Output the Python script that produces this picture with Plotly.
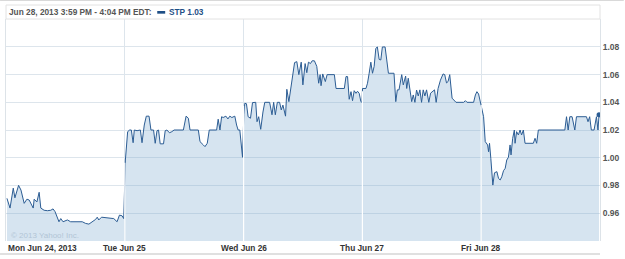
import plotly.graph_objects as go
import numpy as np

# ---- data: time in trading days since Mon open, price ----
mon_t = [0.008, 0.034, 0.061, 0.075, 0.106, 0.126, 0.153, 0.176, 0.195, 0.209, 0.229, 0.237,
         0.260, 0.279, 0.293, 0.321, 0.349, 0.377, 0.396, 0.413, 0.433, 0.446, 0.461, 0.480,
         0.517, 0.544, 0.642, 0.670, 0.698, 0.726, 0.754, 0.768, 0.781, 0.804, 0.852, 0.907,
         0.935, 0.955, 0.977, 0.991]
mon_p = [0.9706, 0.9636, 0.978, 0.971, 0.980, 0.9766, 0.967, 0.970, 0.9694, 0.9665, 0.9636, 0.970,
         0.968, 0.975, 0.9636, 0.962, 0.9617, 0.962, 0.963, 0.961, 0.957, 0.9537, 0.956, 0.9537,
         0.955, 0.9537, 0.9537, 0.9525, 0.952, 0.9537, 0.9554, 0.957, 0.955, 0.957, 0.9566, 0.956,
         0.9537, 0.9585, 0.958, 0.956]

tue_t = [1.005, 1.024, 1.041, 1.055, 1.070, 1.080, 1.103, 1.131, 1.145, 1.164, 1.181, 1.204,
         1.220, 1.242, 1.256, 1.271, 1.284, 1.298, 1.326, 1.340, 1.354, 1.376, 1.396, 1.415,
         1.493, 1.516, 1.535, 1.549, 1.619, 1.633, 1.661, 1.675, 1.694, 1.711, 1.773, 1.786,
         1.801, 1.815, 1.828, 1.851, 1.868, 1.884, 1.901, 1.926, 1.941, 1.954, 1.968, 1.991]
tue_p = [0.9983, 1.0188, 1.02, 1.02, 1.0108, 1.02, 1.0195, 1.02, 1.0108, 1.0236, 1.030, 1.030,
         1.02, 1.02, 1.0104, 1.0195, 1.02, 1.01, 1.01, 1.0195, 1.02, 1.018, 1.0188, 1.02,
         1.02, 1.030, 1.0285, 1.02, 1.02, 1.0116, 1.0092, 1.008, 1.0104, 1.02, 1.02, 1.0278,
         1.02, 1.0296, 1.029, 1.030, 1.028, 1.030, 1.029, 1.030, 1.0236, 1.02, 1.02, 1.0003]

wed_t = [2.002, 2.010, 2.024, 2.038, 2.058, 2.075, 2.102, 2.113, 2.127, 2.144, 2.163, 2.178,
         2.219, 2.239, 2.253, 2.267, 2.284, 2.303, 2.317, 2.331, 2.353, 2.364, 2.381, 2.395,
         2.415, 2.429, 2.448, 2.465, 2.485, 2.499, 2.518, 2.532, 2.546, 2.563, 2.577, 2.596,
         2.616, 2.632, 2.644, 2.652, 2.666, 2.688, 2.703, 2.764, 2.778, 2.848, 2.862, 2.875,
         2.889, 2.904, 2.917, 2.931, 2.946, 2.959, 2.973, 2.987, 2.996]
wed_p = [1.031, 1.0393, 1.039, 1.0296, 1.0285, 1.0398, 1.04, 1.026, 1.0296, 1.0205, 1.033, 1.04,
         1.04, 1.031, 1.04, 1.031, 1.04, 1.04, 1.0345, 1.038, 1.030, 1.0494, 1.0405, 1.05,
         1.061, 1.0687, 1.0694, 1.06, 1.069, 1.0526, 1.068, 1.0614, 1.069, 1.068, 1.070, 1.07,
         1.066, 1.0538, 1.06, 1.052, 1.0605, 1.055, 1.06, 1.06, 1.050, 1.05, 1.0586, 1.0586,
         1.0422, 1.0477, 1.0412, 1.0484, 1.0465, 1.048, 1.0465, 1.0405, 1.04]

thu_t = [3.001, 3.030, 3.043, 3.057, 3.071, 3.085, 3.099, 3.113, 3.126, 3.141, 3.155, 3.168,
         3.191, 3.205, 3.219, 3.266, 3.281, 3.294, 3.308, 3.331, 3.344, 3.364, 3.373, 3.386,
         3.400, 3.415, 3.428, 3.442, 3.456, 3.470, 3.484, 3.498, 3.512, 3.526, 3.540, 3.559,
         3.574, 3.587, 3.607, 3.621, 3.637, 3.657, 3.679, 3.693, 3.708, 3.721, 3.735, 3.755,
         3.769, 3.788, 3.853, 3.867, 3.881, 3.936, 3.951, 3.964, 3.978, 3.992]
thu_p = [1.050, 1.05, 1.0538, 1.061, 1.069, 1.061, 1.066, 1.079, 1.080, 1.071, 1.0706, 1.08,
         1.08, 1.0706, 1.061, 1.061, 1.0405, 1.049, 1.049, 1.06, 1.0526, 1.059, 1.05, 1.0574,
         1.05, 1.0405, 1.0453, 1.04, 1.0489, 1.0446, 1.049, 1.04, 1.049, 1.0446, 1.049, 1.04,
         1.0466, 1.0477, 1.049, 1.04, 1.05, 1.056, 1.0605, 1.06, 1.054, 1.055, 1.06, 1.043,
         1.0417, 1.04, 1.04, 1.0412, 1.04, 1.04, 1.0453, 1.0477, 1.046, 1.04]

fri_t = [4.014, 4.020, 4.034, 4.043, 4.054, 4.062, 4.070, 4.081, 4.090, 4.098, 4.112, 4.132,
         4.146, 4.160, 4.173, 4.188, 4.202, 4.215, 4.229, 4.243, 4.251, 4.265, 4.279, 4.285,
         4.298, 4.313, 4.327, 4.340, 4.355, 4.369, 4.439, 4.453, 4.467, 4.481, 4.704, 4.718,
         4.732, 4.746, 4.765, 4.788, 4.802, 4.886, 4.899, 4.913, 4.927, 4.950, 4.970, 4.983, 4.992]
fri_p = [1.031, 1.0296, 1.0116, 1.0104, 1.0092, 1.0043, 1.0104, 0.9995, 0.991, 0.9802, 0.9891, 0.9899,
         0.985, 0.9839, 0.9862, 0.9906, 0.9923, 0.9983, 1.0003, 1.0092, 1.002, 1.014, 1.02, 1.0104,
         1.0188, 1.0164, 1.02, 1.0164, 1.02, 1.0104, 1.0104, 1.014, 1.0104, 1.02, 1.02, 1.0296,
         1.02, 1.0296, 1.0296, 1.02, 1.0296, 1.0296, 1.026, 1.0296, 1.02, 1.02, 1.0296, 1.02, 1.031]

day_labels = ["Mon Jun 24, 2013", "Tue Jun 25", "Wed Jun 26", "Thu Jun 27", "Fri Jun 28"]
day_pos = [0, 1, 2, 3, 4]
y_ticks = [0.96, 0.98, 1.00, 1.02, 1.04, 1.06, 1.08]
header_text = "Jun 28, 2013 3:59 PM - 4:04 PM EDT:"
series_label = "STP 1.03"
watermark = "\u00a9 2013 Yahoo! Inc."

t = np.array(mon_t + tue_t + wed_t + thu_t + fri_t)
p = np.array(mon_p + tue_p + wed_p + thu_p + fri_p)

LINE = "#2c5d94"
GRID = "#dde5ec"
YR = [0.9398, 1.1002]
FONT = "Liberation Sans, Arial, sans-serif"

fig = go.Figure()
fig.add_trace(go.Scatter(x=t, y=p, mode="lines", fill="tozeroy",
                         fillcolor="rgba(118,165,205,0.30)",
                         line=dict(color=LINE, width=1), hoverinfo="skip"))
fig.add_trace(go.Scatter(x=[t[-1]], y=[p[-1]], mode="markers",
                         marker=dict(color=LINE, size=5), hoverinfo="skip"))

shapes = []
# white day separators inside the filled area
for d in day_pos[1:]:
    near = p[np.abs(t - d) < 0.02]
    top = near.max() if len(near) else np.interp(d, t, p)
    shapes.append(dict(type="line", xref="x", yref="y", x0=d, x1=d, y0=YR[0], y1=top - 0.002,
                       line=dict(color="white", width=1.2), layer="above"))
# header box
shapes.append(dict(type="rect", xref="paper", yref="paper", x0=0, x1=1, y0=1, y1=1.063,
                   line=dict(color="#e2e2e2", width=1), fillcolor="rgba(0,0,0,0)"))
# top page rule
shapes.append(dict(type="line", xref="paper", yref="paper", x0=-0.01, x1=1.04, y0=1.0856, y1=1.0856,
                   line=dict(color="#d9d9d9", width=2)))
# bottom rule
shapes.append(dict(type="line", xref="paper", yref="paper", x0=-0.01, x1=1.0, y0=-0.059, y1=-0.059,
                   line=dict(color="#e0e0e0", width=2)))
# legend swatch
shapes.append(dict(type="rect", xref="paper", yref="paper", x0=0.2546, x1=0.268, y0=1.024, y1=1.036,
                   line=dict(width=0), fillcolor="#1f4f86"))

annotations = []
for i, (pos, lab) in enumerate(zip(day_pos, day_labels)):
    annotations.append(dict(x=pos, y=-0.032, xref="x", yref="paper", text=lab, showarrow=False,
                            xanchor="left" if i == 0 else "center", yanchor="middle",
                            font=dict(family=FONT, size=8.3, color="#333333", weight="bold")))
annotations.append(dict(x=0.0017, y=1.0315, xref="paper", yref="paper", text=header_text,
                        showarrow=False, xanchor="left", yanchor="middle",
                        font=dict(family=FONT, size=8.3, color="#555555", weight="bold")))
annotations.append(dict(x=0.2714, y=1.0315, xref="paper", yref="paper", text=series_label,
                        showarrow=False, xanchor="left", yanchor="middle",
                        font=dict(family=FONT, size=8.3, color="#1f4f86", weight="bold")))
annotations.append(dict(x=0.005, y=0.027, xref="paper", yref="paper", text=watermark,
                        showarrow=False, xanchor="left", yanchor="middle",
                        font=dict(family=FONT, size=8, color="#b2c5d6")))

fig.update_layout(
    width=625, height=259,
    margin=dict(l=5, r=23, t=19, b=18),
    paper_bgcolor="white", plot_bgcolor="white",
    showlegend=False,
    shapes=shapes, annotations=annotations,
    xaxis=dict(range=[0, 5], tickvals=day_pos, showticklabels=False, ticks="",
               showgrid=True, gridcolor=GRID, gridwidth=1, zeroline=False, showline=False,
               fixedrange=True),
    yaxis=dict(range=YR, side="right", tickvals=y_ticks, ticktext=[f"{v:.2f}" for v in y_ticks],
               tickfont=dict(family=FONT, size=8.5, color="#555555", weight="bold"),
               ticks="", showgrid=True, gridcolor=GRID, gridwidth=1, zeroline=False,
               showline=True, mirror=True, linecolor="#dde3e8", linewidth=1, fixedrange=True),
)

fig.write_html("out.html")
